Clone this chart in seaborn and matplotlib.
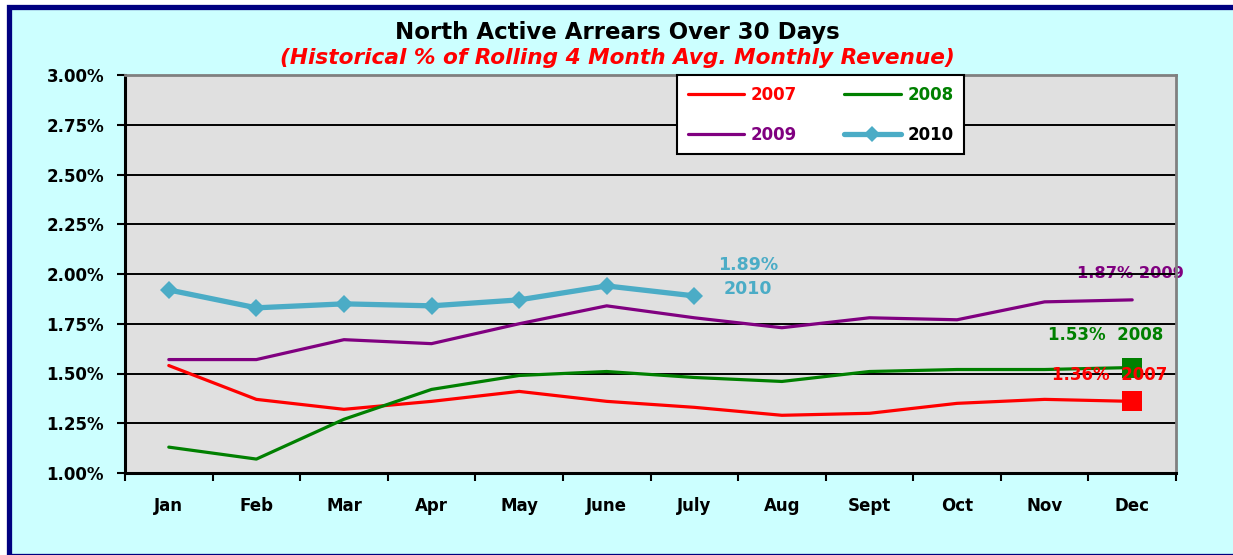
import matplotlib
matplotlib.use("Agg")
import matplotlib.pyplot as plt
import matplotlib.patches as mpatches
from matplotlib.lines import Line2D
from matplotlib.ticker import FixedLocator, FuncFormatter
import seaborn as sns
import pandas as pd

months = ["Jan", "Feb", "Mar", "Apr", "May", "June", "July", "Aug", "Sept", "Oct", "Nov", "Dec"]
v2007 = [1.54, 1.37, 1.32, 1.36, 1.41, 1.36, 1.33, 1.29, 1.30, 1.35, 1.37, 1.36]
v2008 = [1.13, 1.07, 1.27, 1.42, 1.49, 1.51, 1.48, 1.46, 1.51, 1.52, 1.52, 1.53]
v2009 = [1.57, 1.57, 1.67, 1.65, 1.75, 1.84, 1.78, 1.73, 1.78, 1.77, 1.86, 1.87]
v2010 = [1.92, 1.83, 1.85, 1.84, 1.87, 1.94, 1.89]
yticks = [1.00, 1.25, 1.50, 1.75, 2.00, 2.25, 2.50, 2.75, 3.00]

title = "North Active Arrears Over 30 Days"
subtitle = "(Historical % of Rolling 4 Month Avg. Monthly Revenue)"

C07, C08, C09, C10 = "#FF0000", "#008000", "#800080", "#4BACC6"

sns.set_theme(style="white")
plt.rcParams["font.family"] = ["DejaVu Sans"]
plt.rcParams["font.weight"] = "bold"

W, H = 1233, 555
fig = plt.figure(figsize=(W / 100, H / 100), dpi=100, facecolor="white")

# background panel with navy frame
fig.patches.append(mpatches.Rectangle((9 / W, -0.5 / H), 1.0, (H - 6.5 + 0.5) / H,
                                      transform=fig.transFigure, facecolor="#CCFFFF",
                                      edgecolor="#000080", linewidth=3.8, zorder=-10))

ax = fig.add_axes([125 / W, (H - 473) / H, (1176 - 125) / W, (473 - 75) / H])
ax.set_facecolor("#E0E0E0")

df07 = pd.DataFrame({"Month": months, "Value": v2007})
df08 = pd.DataFrame({"Month": months, "Value": v2008})
df09 = pd.DataFrame({"Month": months, "Value": v2009})
df10 = pd.DataFrame({"Month": months[:len(v2010)], "Value": v2010})

sns.lineplot(data=df07, x="Month", y="Value", ax=ax, color=C07, linewidth=2.3, sort=False,
             marker="s", markersize=15, markevery=[len(v2007) - 1], markeredgewidth=0,
             zorder=3, legend=False)
sns.lineplot(data=df08, x="Month", y="Value", ax=ax, color=C08, linewidth=2.3, sort=False,
             marker="s", markersize=15, markevery=[len(v2008) - 1], markeredgewidth=0,
             zorder=3, legend=False)
sns.lineplot(data=df09, x="Month", y="Value", ax=ax, color=C09, linewidth=2.3, sort=False,
             zorder=3, legend=False)
sns.lineplot(data=df10, x="Month", y="Value", ax=ax, color=C10, linewidth=3.8, sort=False,
             marker="D", markersize=9.5, markeredgewidth=0, zorder=3, legend=False)

ax.set_xlim(-0.5, 11.5)
ax.set_ylim(1.0, 3.0)
ax.set_xlabel("")
ax.set_ylabel("")

# y axis
ax.yaxis.set_major_locator(FixedLocator(yticks))
ax.yaxis.set_major_formatter(FuncFormatter(lambda v, p: f"{v:.2f}%"))
ax.tick_params(axis="y", which="major", left=True, direction="out", length=6, width=1.5,
               color="black", labelsize=12, labelcolor="black", pad=9)
for t in ax.get_yticklabels():
    t.set_fontweight("bold")

# x axis: ticks between categories, labels centered
ax.set_xticks([i - 0.5 for i in range(len(months) + 1)])
ax.set_xticklabels([""] * (len(months) + 1))
ax.set_xticks(range(len(months)), minor=True)
ax.set_xticklabels(months, minor=True, fontsize=12, fontweight="bold", color="black")
ax.tick_params(axis="x", which="major", bottom=True, direction="out", length=6, width=1.5,
               color="black")
ax.tick_params(axis="x", which="minor", bottom=False, length=0, pad=17)

ax.grid(axis="y", color="black", linewidth=1.4, zorder=0.5)
ax.grid(axis="x", visible=False)
ax.set_axisbelow(True)

for side in ["left", "bottom"]:
    ax.spines[side].set_color("black")
    ax.spines[side].set_linewidth(2.2)
for side in ["top", "right"]:
    ax.spines[side].set_color("#808080")
    ax.spines[side].set_linewidth(2.0)

# value labels
lab_fs = 12
ax.text(6.61, 2.045, f"{v2010[-1]:.2f}%", color=C10, fontsize=lab_fs + 0.5, fontweight="bold",
        ha="center", va="center", zorder=0.4)
ax.text(6.61, 1.925, "2010", color=C10, fontsize=lab_fs + 0.5, fontweight="bold",
        ha="center", va="center", zorder=0.4)
ax.text(10.98, 2.005, f"{v2009[-1]:.2f}% 2009", color=C09, fontsize=lab_fs - 0.3,
        fontweight="bold", ha="center", va="center", zorder=0.4)
ax.text(10.70, 1.693, f"{v2008[-1]:.2f}%  2008", color=C08, fontsize=lab_fs,
        fontweight="bold", ha="center", va="center", zorder=0.4)
ax.text(10.74, 1.492, f"{v2007[-1]:.2f}%  2007", color=C07, fontsize=lab_fs,
        fontweight="bold", ha="center", va="center", zorder=3.5)

# legend (row-wise order: 2007, 2008 / 2009, 2010)
h07 = Line2D([], [], color=C07, linewidth=2.3)
h08 = Line2D([], [], color=C08, linewidth=2.3)
h09 = Line2D([], [], color=C09, linewidth=2.3)
h10 = Line2D([], [], color=C10, linewidth=3.8, marker="D", markersize=8, markeredgewidth=0)
leg = ax.legend([h07, h09, h08, h10], ["2007", "2009", "2008", "2010"], ncol=2,
                loc="upper left", bbox_to_anchor=(0.525, 1.0),
                frameon=True, fancybox=False, framealpha=1, facecolor="white",
                edgecolor="black", fontsize=12, handlelength=3.4, handletextpad=0.4,
                columnspacing=2.8, borderpad=0.65, labelspacing=1.3, borderaxespad=0)
leg.get_frame().set_linewidth(1.5)
for txt, col in zip(leg.get_texts(), [C07, C09, C08, "black"]):
    txt.set_color(col)
    txt.set_fontweight("bold")

fig.text(617 / W, 1 - 32 / H, title, ha="center", va="center", fontsize=16.5,
         fontweight="bold", color="black")
fig.text(617 / W, 1 - 58 / H, subtitle, ha="center", va="center", fontsize=15.6,
         fontweight="bold", style="italic", color="#FF0000")

fig.savefig("out.png", dpi=100, facecolor=fig.get_facecolor())
